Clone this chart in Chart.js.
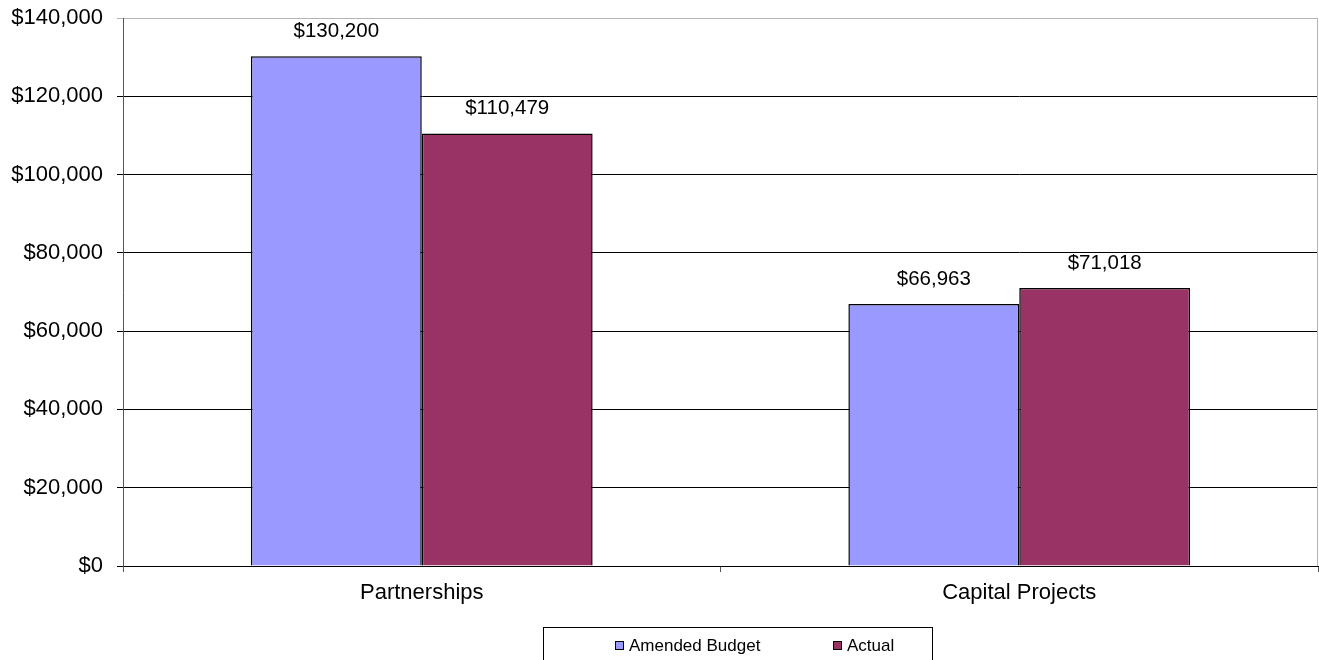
<!DOCTYPE html>
<html>
<head>
<meta charset="utf-8">
<script src="https://cdn.jsdelivr.net/npm/chart.js@4"></script>
<style>
  html, body { margin: 0; padding: 0; background: #fff; }
  #wrap { width: 1319px; height: 660px; position: relative; }
</style>
</head>
<body>
<div id="wrap"><canvas id="myChart" width="1319" height="660"></canvas></div>
<script>
// categories and series
const categories = ["Partnerships", "Capital Projects"];
const amendedBudget = [130200, 66963];
const actual = [110479, 71018];
const yTicks = [0, 20000, 40000, 60000, 80000, 100000, 120000, 140000];

const FONT = "'Liberation Sans', Arial, sans-serif";

function money(v) {
    return "$" + Number(v).toLocaleString("en-US");
}

// value above each bar
const barLabels = {
    id: "barLabels",
    afterDatasetsDraw(chart) {
        const ctx = chart.ctx;
        ctx.save();
        ctx.font = "20.5px " + FONT;
        ctx.fillStyle = "#000";
        ctx.textAlign = "center";
        ctx.textBaseline = "middle";
        chart.data.datasets.forEach((ds, i) => {
            chart.getDatasetMeta(i).data.forEach((bar, j) => {
                ctx.fillText(money(ds.data[j]), bar.x, bar.y - 25);
            });
        });
        ctx.restore();
    }
};

// plot frame (right side in grey) and boxed legend under the axis
const frameAndLegend = {
    id: "frameAndLegend",
    afterDraw(chart) {
        const ctx = chart.ctx;
        const a = chart.chartArea;
        ctx.save();
        ctx.strokeStyle = "#b4b4b4";
        ctx.lineWidth = 1;
        ctx.beginPath();
        ctx.moveTo(a.right - 0.5, a.top);
        ctx.lineTo(a.right - 0.5, a.bottom);
        ctx.stroke();

        // legend box
        ctx.strokeStyle = "#000";
        ctx.strokeRect(543.5, 627.5, 389, 40);
        ctx.font = "17px " + FONT;
        ctx.textBaseline = "middle";
        ctx.textAlign = "left";
        const xs = [615, 833];
        chart.data.datasets.forEach((ds, i) => {
            ctx.fillStyle = ds.backgroundColor;
            ctx.fillRect(xs[i], 641, 9, 9);
            ctx.strokeStyle = "#000";
            ctx.strokeRect(xs[i] + 0.5, 641.5, 8, 8);
            ctx.fillStyle = "#000";
            ctx.fillText(ds.label, xs[i] + 14, 646);
        });
        ctx.restore();
    }
};

new Chart(document.getElementById("myChart"), {
    type: "bar",
    data: {
        labels: categories,
        datasets: [{
            label: "Amended Budget",
            data: amendedBudget,
            backgroundColor: "#9999ff",
            borderColor: "#000",
            borderWidth: 1.5
        }, {
            label: "Actual",
            data: actual,
            backgroundColor: "#993366",
            borderColor: "#000",
            borderWidth: 1.5
        }]
    },
    options: {
        responsive: false,
        animation: false,
        layout: { padding: { top: 18, right: 1, left: 0, bottom: 48 } },
        datasets: { bar: { barPercentage: 1, categoryPercentage: 0.572 } },
        plugins: {
            legend: { display: false },
            tooltip: { enabled: false }
        },
        scales: {
            x: {
                afterFit(scale) {
                    scale.height = 46;
                    scale.paddingLeft = 0;
                    scale.paddingRight = 0;
                },
                grid: { drawOnChartArea: false, tickLength: 6, color: "#555" },
                border: { color: "#000" },
                ticks: { color: "#000", autoSkip: false, maxRotation: 0, font: { family: FONT, size: 22 }, padding: 8 }
            },
            y: {
                min: 0,
                max: 140000,
                afterFit(scale) {
                    scale.width = 123;
                    scale.paddingTop = 0;
                    scale.paddingBottom = 0;
                },
                afterBuildTicks(scale) { scale.ticks = yTicks.map(v => ({ value: v })); },
                grid: {
                    tickLength: 6,
                    color: ctx => ctx.tick && ctx.tick.value === 140000 ? "#b4b4b4" : "#000"
                },
                border: { color: "#555" },
                ticks: {
                    color: "#000",
                    padding: 14,
                    font: { family: FONT, size: 22 },
                    callback: v => money(v)
                }
            }
        }
    },
    plugins: [barLabels, frameAndLegend]
});
</script>
</body>
</html>
